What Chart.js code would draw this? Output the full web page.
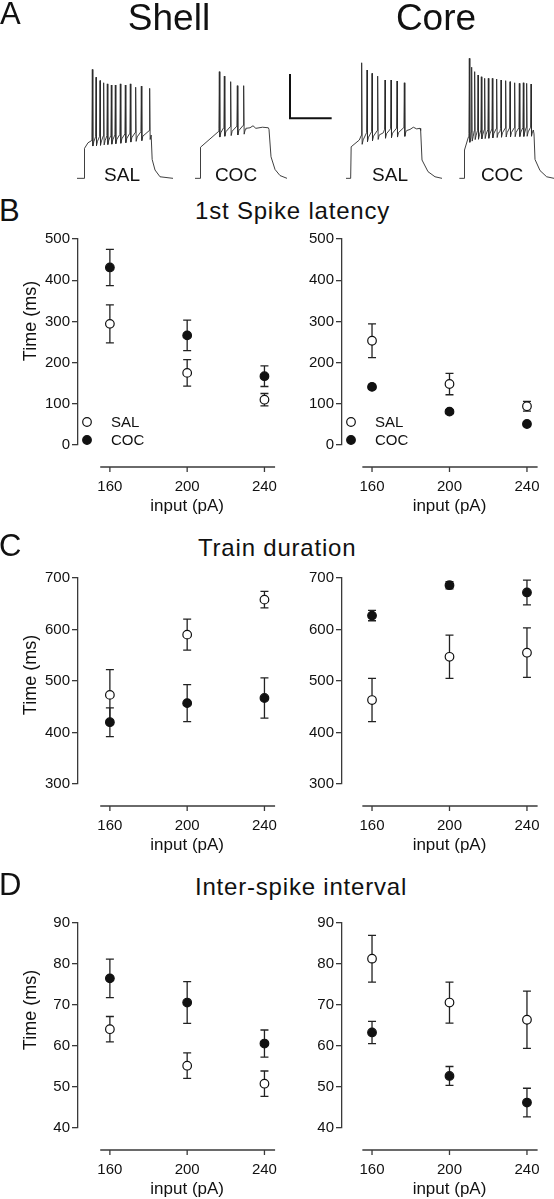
<!DOCTYPE html>
<html>
<head>
<meta charset="utf-8">
<script src="https://cdn.jsdelivr.net/npm/chart.js"></script>
<style>
  body { margin: 0; background: #fff; }
  #fig { position: relative; width: 554px; height: 1199px; overflow: hidden; background: #fff;
         font-family: "Liberation Sans", Arial, Helvetica, sans-serif; color: #111; }
  #fig canvas { position: absolute; }
  .lbl { position: absolute; line-height: 1; white-space: nowrap; }
  .ctr { transform: translateX(-50%); }
  .ttl { font-size: 24px; letter-spacing: 0.8px; }
  .let { font-size: 31px; }
  .ylab { position: absolute; line-height: 1; white-space: nowrap; font-size: 18px;
          transform: translate(-50%, -50%) rotate(-90deg); }
</style>
</head>
<body>
<div id="fig">
  <canvas id="traces" width="554" height="190" style="left:0;top:0"></canvas>
  <canvas id="latShell" width="280" height="300" style="left:0;top:228px"></canvas>
  <canvas id="latCore" width="274" height="300" style="left:280px;top:228px"></canvas>
  <canvas id="durShell" width="280" height="300" style="left:0;top:567px"></canvas>
  <canvas id="durCore" width="274" height="300" style="left:280px;top:567px"></canvas>
  <canvas id="isiShell" width="280" height="287" style="left:0;top:912px"></canvas>
  <canvas id="isiCore" width="274" height="287" style="left:280px;top:912px"></canvas>

  <div class="lbl let" style="left:0;top:-2px">A</div>
  <div class="lbl ctr" style="left:169px;top:-1px;font-size:37px">Shell</div>
  <div class="lbl ctr" style="left:436px;top:-1px;font-size:37px">Core</div>
  <div class="lbl ctr" style="left:122px;top:165px;font-size:19px">SAL</div>
  <div class="lbl ctr" style="left:236px;top:165px;font-size:19px">COC</div>
  <div class="lbl ctr" style="left:390px;top:165px;font-size:19px">SAL</div>
  <div class="lbl ctr" style="left:502px;top:165px;font-size:19px">COC</div>

  <div class="lbl let" style="left:-1px;top:195px">B</div>
  <div class="lbl ttl" style="left:195px;top:199px">1st Spike latency</div>
  <div class="ylab" style="left:30px;top:321px">Time (ms)</div>

  <div class="lbl let" style="left:-1px;top:530px">C</div>
  <div class="lbl ttl" style="left:198px;top:536px">Train duration</div>
  <div class="ylab" style="left:30px;top:675px">Time (ms)</div>

  <div class="lbl let" style="left:-1px;top:869px">D</div>
  <div class="lbl ttl" style="left:195px;top:875px">Inter-spike interval</div>
  <div class="ylab" style="left:30px;top:1010px">Time (ms)</div>
</div>
<script>
const FONT = '"Liberation Sans", Arial, Helvetica, sans-serif';
Chart.defaults.font.family = FONT;
Chart.defaults.color = '#111';

// injected current steps (pA)
const currents = [160, 200, 240];
const xTicks = [160, 200, 240];

// B - 1st spike latency (ms), mean and SEM
const latShellSal = [294, 175, 110];
const latShellSalSem = [46, 32, 15];
const latShellCoc = [431, 266, 167];
const latShellCocSem = [44, 37, 25];
const latCoreSal = [253, 148, 94];
const latCoreSalSem = [41, 26, 12];
const latCoreCoc = [141, 81, 51];
const latCoreCocSem = [6, 5, 5];

// C - train duration (ms)
const durShellSal = [473, 590, 658];
const durShellSalSem = [49, 30, 16];
const durShellCoc = [420, 457, 467];
const durShellCocSem = [28, 36, 39];
const durCoreSal = [463, 547, 555];
const durCoreSalSem = [42, 42, 48];
const durCoreCoc = [627, 686, 672];
const durCoreCocSem = [10, 7, 24];

// D - inter-spike interval (ms)
const isiShellSal = [64.1, 55.2, 50.8];
const isiShellSalSem = [3.1, 3.1, 3.1];
const isiShellCoc = [76.5, 70.6, 60.6];
const isiShellCocSem = [4.7, 5.1, 3.3];
const isiCoreSal = [81.3, 70.6, 66.4];
const isiCoreSalSem = [5.7, 5.0, 7.0];
const isiCoreCoc = [63.3, 52.7, 46.2];
const isiCoreCocSem = [2.7, 2.3, 3.5];

// y axis ranges [min, max, step]
const latAxis = [0, 500, 100];
const durAxis = [300, 700, 100];
const isiAxis = [40, 90, 10];

// A - example traces: time (ms), membrane potential (mV); subthreshold envelope + spikes
const shellSalEnv = [[924,-80],[1008,-80],[1014,-53],[1056,-48],[1100,-46],[1500,-43],[1800,-40],[1808,-42],[1826,-63],[1860,-72.5],[1920,-78.6],[2076,-80]];
const shellSalSpikes = [1108,1152,1200,1244,1288,1336,1384,1444,1504,1564,1628,1696,1796];
const shellSalPeaks = [18,11,8,6,5,4,4,5,4,5,2,3,1];

const shellCocEnv = [[2340,-80],[2400,-80],[2406,-52],[2620,-38],[2700,-37],[2850,-36],[2950,-35],[3000,-34.5],[3036,-32.7],[3070,-35],[3150,-34],[3220,-34.5],[3228,-36],[3252,-60.6],[3300,-72],[3360,-77.5],[3444,-80]];
const shellCocSpikes = [2632,2692,2768,2848,2924];
const shellCocPeaks = [16,12,7,3.4,3.4];

const coreSalEnv = [[4152,-80],[4208,-80],[4214,-51.6],[4312,-45.5],[4400,-42],[4600,-39],[4880,-37],[4920,-36],[4960,-34],[5000,-35.5],[5040,-35],[5048,-37],[5064,-63.5],[5136,-74],[5220,-78.6],[5304,-80]];
const coreSalSpikes = [4340,4404,4464,4532,4620,4692,4764,4852];
const coreSalPeaks = [24,17.5,14.5,12,8.5,8.5,7.6,6];

const coreCocEnv = [[5512,-80],[5568,-80],[5574,-54.5],[5620,-43],[5700,-40],[6000,-38],[6390,-37],[6400,-36.5],[6408,-40],[6420,-63],[6480,-73],[6560,-78.6],[6648,-80]];
const coreCocSpikes = [5632,5660,5696,5736,5776,5816,5860,5908,5960,6012,6068,6120,6176,6232,6280,6320,6372];
const coreCocPeaks = [28,20,16,13,11.4,10,10,10,9.4,8.5,7.9,7,6,5.5,6,5.5,4.9];

const scaleBarMv = 40;
const scaleBarMs = 500;

const INK = '#111';
const AXIS = '#3a3a3a';

function levelAt(env, t) {
    for (let i = 1; i < env.length; i++) {
        if (t <= env[i][0]) {
            const [t0, v0] = env[i - 1];
            const [t1, v1] = env[i];
            return v0 + (v1 - v0) * (t - t0) / (t1 - t0);
        }
    }
    return env[env.length - 1][1];
}

function traceSeries(env, spikes, peaks) {
    const busy = t => spikes.some(s => t > s - 6 && t < s + 20);
    const pts = env.filter(p => !busy(p[0])).map(p => ({ x: p[0], y: p[1] }));
    spikes.forEach((t, i) => {
        const v = levelAt(env, t);
        pts.push({ x: t - 5, y: v + 3 }, { x: t, y: peaks[i] }, { x: t + 6, y: v - 5 }, { x: t + 18, y: v - 1 });
    });
    return pts.sort((a, b) => a.x - b.x);
}

// panel A
const traceSets = [
    [shellSalEnv, shellSalSpikes, shellSalPeaks],
    [shellCocEnv, shellCocSpikes, shellCocPeaks],
    [coreSalEnv, coreSalSpikes, coreSalPeaks],
    [coreCocEnv, coreCocSpikes, coreCocPeaks]
].map(t => ({
    data: traceSeries(t[0], t[1], t[2]),
    showLine: true, borderColor: '#2a2a2a', borderWidth: 0.9, pointRadius: 0
}));

const barT = 3480, barV = -26;
traceSets.push({
    data: [{ x: barT, y: barV + scaleBarMv }, { x: barT, y: barV }, { x: barT + scaleBarMs, y: barV }],
    showLine: true, borderColor: INK, borderWidth: 2, pointRadius: 0
});

new Chart(document.getElementById('traces'), {
    type: 'scatter',
    data: { datasets: traceSets },
    options: {
        responsive: false, animation: false, events: [],
        layout: { padding: 0 },
        plugins: { legend: { display: false }, tooltip: { enabled: false } },
        scales: {
            x: { type: 'linear', display: false, min: 0, max: 6648 },
            y: { display: false, min: -90.5, max: 80.5 }
        }
    }
});

// error bars drawn under the markers
const errorBars = {
    id: 'errorBars',
    beforeDatasetsDraw(chart) {
        const { ctx, scales: { x, y } } = chart;
        ctx.save();
        ctx.strokeStyle = '#222';
        ctx.lineWidth = 1.3;
        chart.data.datasets.forEach(ds => {
            ds.data.forEach((p, i) => {
                const px = x.getPixelForValue(p.x);
                const hi = y.getPixelForValue(p.y + ds.sem[i]);
                const lo = y.getPixelForValue(p.y - ds.sem[i]);
                ctx.beginPath();
                ctx.moveTo(px, hi); ctx.lineTo(px, lo);
                ctx.moveTo(px - 4, hi); ctx.lineTo(px + 4, hi);
                ctx.moveTo(px - 4, lo); ctx.lineTo(px + 4, lo);
                ctx.stroke();
            });
        });
        ctx.restore();
    }
};

// detached x axis below the plot, Prism style
const xAxis = {
    id: 'xAxis',
    afterDraw(chart) {
        const { ctx, chartArea, scales: { x } } = chart;
        const yLine = chartArea.bottom + 22;
        ctx.save();
        ctx.strokeStyle = AXIS;
        ctx.lineWidth = 1.3;
        ctx.beginPath();
        ctx.moveTo(x.getPixelForValue(155), yLine);
        ctx.lineTo(x.getPixelForValue(245.5), yLine);
        xTicks.forEach(v => {
            const px = x.getPixelForValue(v);
            ctx.moveTo(px, yLine);
            ctx.lineTo(px, yLine + 5);
        });
        ctx.stroke();
        ctx.fillStyle = INK;
        ctx.textAlign = 'center';
        ctx.textBaseline = 'alphabetic';
        ctx.font = '15px ' + FONT;
        xTicks.forEach(v => ctx.fillText(String(v), x.getPixelForValue(v), yLine + 24));
        ctx.font = '17px ' + FONT;
        ctx.fillText('input (pA)', x.getPixelForValue(200), yLine + 44);
        ctx.restore();
    }
};

function drawMarker(ctx, px, py, filled) {
    ctx.beginPath();
    ctx.arc(px, py, 4.3, 0, Math.PI * 2);
    ctx.fillStyle = filled ? INK : '#fff';
    ctx.fill();
    ctx.lineWidth = 1.2;
    ctx.strokeStyle = INK;
    ctx.stroke();
}

const keyPlugin = {
    id: 'key',
    afterDatasetsDraw(chart) {
        const { ctx, chartArea } = chart;
        const mx = chartArea.left + 9;
        const tx = chartArea.left + 33;
        const y1 = chartArea.bottom - 23;
        const y2 = chartArea.bottom - 5;
        ctx.save();
        drawMarker(ctx, mx, y1, false);
        drawMarker(ctx, mx, y2, true);
        ctx.fillStyle = INK;
        ctx.font = '15px ' + FONT;
        ctx.textAlign = 'left';
        ctx.textBaseline = 'middle';
        ctx.fillText('SAL', tx, y1 + 1);
        ctx.fillText('COC', tx, y2 + 1);
        ctx.restore();
    }
};

const pts = vals => vals.map((v, i) => ({ x: currents[i], y: v }));

function panel(id, left, axis, sal, salSem, coc, cocSem, bottomPad, withKey) {
    const plugins = [errorBars, xAxis];
    if (withKey) plugins.push(keyPlugin);
    return new Chart(document.getElementById(id), {
        type: 'scatter',
        data: {
            datasets: [
                { label: 'SAL', data: pts(sal), sem: salSem, pointRadius: 4.3,
                  pointBackgroundColor: '#fff', pointBorderColor: INK, pointBorderWidth: 1.2 },
                { label: 'COC', data: pts(coc), sem: cocSem, pointRadius: 4.3,
                  pointBackgroundColor: INK, pointBorderColor: INK, pointBorderWidth: 1.2 }
            ]
        },
        options: {
            responsive: false, animation: false, events: [],
            layout: { padding: { top: 10, bottom: bottomPad, left: 0, right: left ? 5 : 16 } },
            plugins: { legend: { display: false }, tooltip: { enabled: false } },
            scales: {
                x: { type: 'linear', display: false,
                     min: left ? 143.5 : 144.5, max: left ? 245.2 : 245.7 },
                y: {
                    min: axis[0], max: axis[1],
                    afterFit: s => { s.width = left ? 78 : 62; },
                    border: { display: true, color: AXIS, width: 1.3 },
                    grid: { drawOnChartArea: false, drawTicks: true, tickLength: 6, color: AXIS, lineWidth: 1.3 },
                    ticks: { stepSize: axis[2], padding: 2, color: INK, font: { size: 15 } }
                }
            }
        },
        plugins: plugins
    });
}

panel('latShell', true, latAxis, latShellSal, latShellSalSem, latShellCoc, latShellCocSem, 83, true);
panel('latCore', false, latAxis, latCoreSal, latCoreSalSem, latCoreCoc, latCoreCocSem, 83, true);
panel('durShell', true, durAxis, durShellSal, durShellSalSem, durShellCoc, durShellCocSem, 83, false);
panel('durCore', false, durAxis, durCoreSal, durCoreSalSem, durCoreCoc, durCoreCocSem, 83, false);
panel('isiShell', true, isiAxis, isiShellSal, isiShellSalSem, isiShellCoc, isiShellCocSem, 71, false);
panel('isiCore', false, isiAxis, isiCoreSal, isiCoreSalSem, isiCoreCoc, isiCoreCocSem, 71, false);
</script>
</body>
</html>
